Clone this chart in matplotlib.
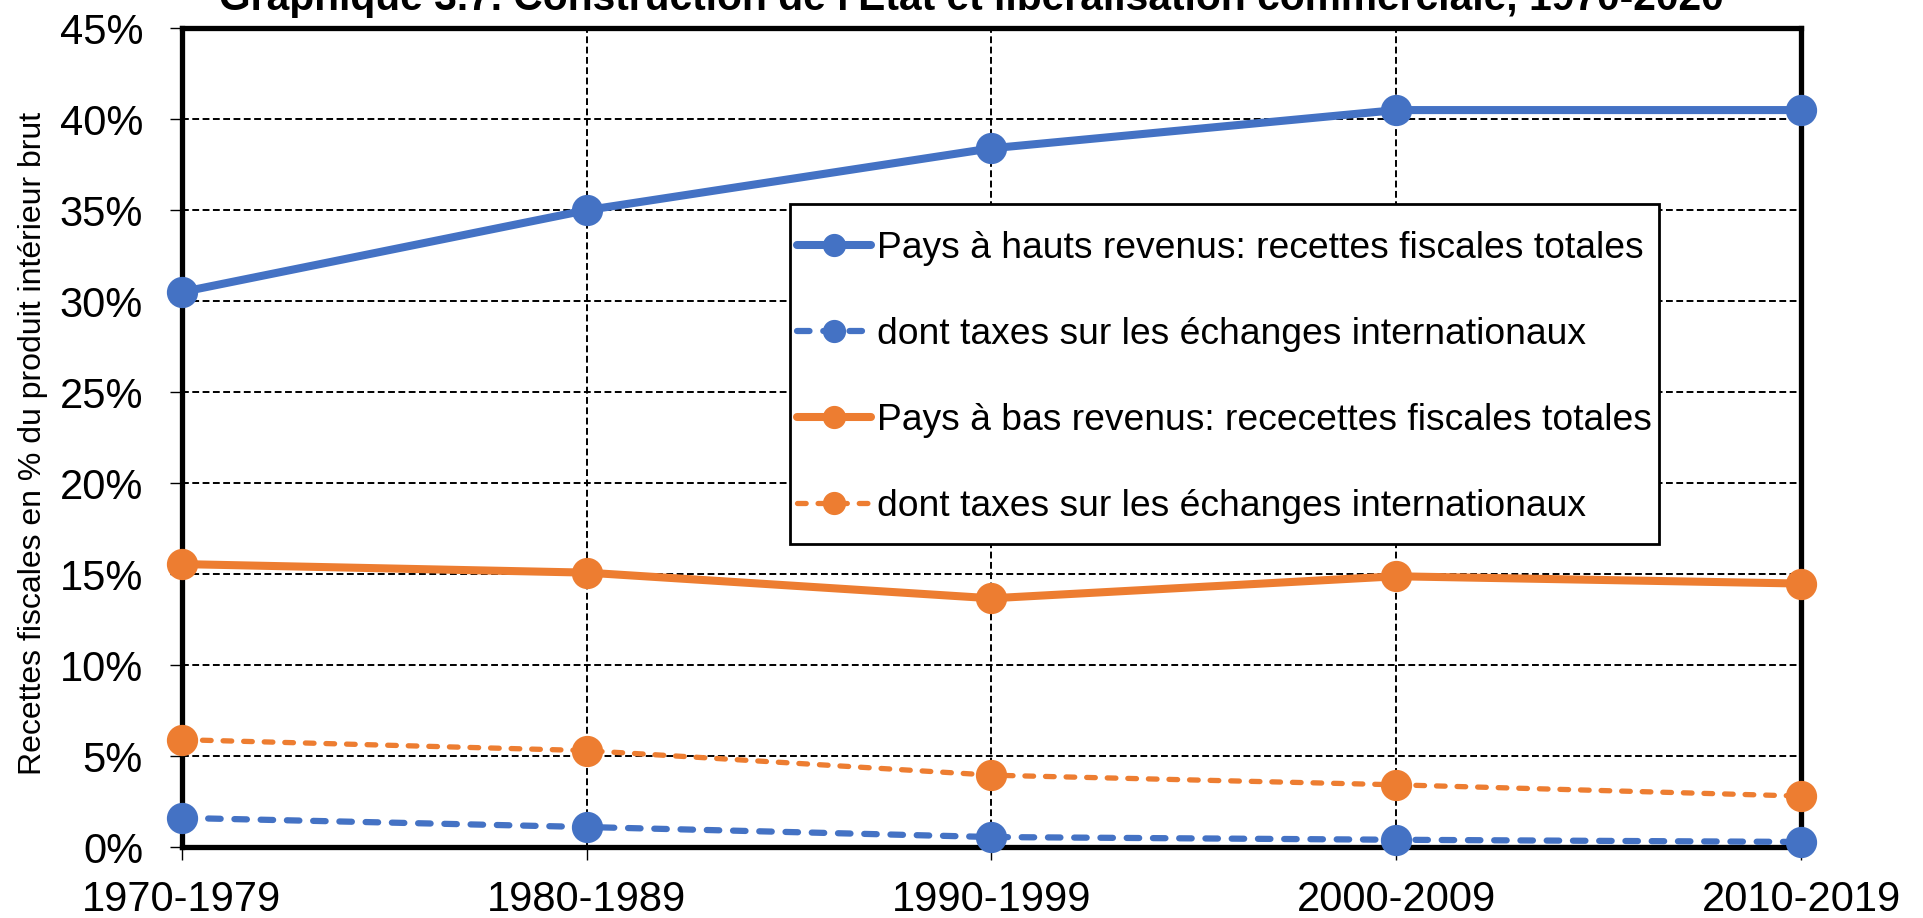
import matplotlib
matplotlib.use("Agg")
import matplotlib.pyplot as plt
from matplotlib.ticker import PercentFormatter
from matplotlib.patches import Rectangle

plt.rcParams['font.family'] = ['Liberation Sans', 'DejaVu Sans']

periods = ["1970-1979", "1980-1989", "1990-1999", "2000-2009", "2010-2019"]
high_total = [30.5, 35.0, 38.4, 40.5, 40.5]
high_trade = [1.6, 1.1, 0.55, 0.4, 0.28]
low_total = [15.55, 15.08, 13.67, 14.88, 14.48]
low_trade = [5.9, 5.3, 3.95, 3.42, 2.8]

labels = [
    "Pays à hauts revenus: recettes fiscales totales",
    "dont taxes sur les échanges internationaux",
    "Pays à bas revenus: rececettes fiscales totales",
    "dont taxes sur les échanges internationaux",
]
title = "Graphique 3.7. Construction de l'Etat et libéralisation commerciale, 1970-2020"
ylabel = "Recettes fiscales en % du produit intérieur brut"

BLUE = "#4472C4"
ORANGE = "#ED7D31"

W, H = 1923, 918
fig = plt.figure(figsize=(W / 100, H / 100), dpi=100)
ax = fig.add_axes([0.0946, 0.0773, 0.842, 0.892])

x = list(range(len(periods)))
ms = 21.5
l1, = ax.plot(x, high_total, color=BLUE, lw=5.8, marker='o', ms=ms, clip_on=False, zorder=5,
              solid_capstyle='round', label=labels[0])
l2, = ax.plot(x, high_trade, color=BLUE, lw=4.5, marker='o', ms=ms, clip_on=False, zorder=5,
              dashes=(2.0, 2.2), dash_capstyle='round', label=labels[1])
l3, = ax.plot(x, low_total, color=ORANGE, lw=5.8, marker='o', ms=ms, clip_on=False, zorder=5,
              solid_capstyle='round', label=labels[2])
l4, = ax.plot(x, low_trade, color=ORANGE, lw=3.8, marker='o', ms=ms, clip_on=False, zorder=5,
              dashes=(1.64, 2.26), dash_capstyle='round', label=labels[3])

ax.set_xlim(0, 4)
ax.set_ylim(0, 45)
ax.set_yticks(range(0, 46, 5))
ax.yaxis.set_major_formatter(PercentFormatter(decimals=0))
ax.set_xticks(x)
ax.set_xticklabels(periods)

ax.grid(True, color='black', linestyle=(0, (3.5, 1.8)), linewidth=1.4)
ax.set_axisbelow(True)
for s in ax.spines.values():
    s.set_linewidth(3.8)
    s.set_color('black')
    s.set_zorder(4)

ax.tick_params(axis='both', labelsize=30, length=9, width=1, direction='out', color='black')
ax.tick_params(axis='x', pad=15)
ax.tick_params(axis='y', pad=19)

fig.text(0.017, 0.517, ylabel, rotation=90, va='center', ha='center', fontsize=23)
fig.text(0.505, 1 - 9.5 / H, title, ha='center', va='baseline', fontsize=29.3,
         fontweight='bold')

# legend frame box
frame = Rectangle((790 / W, 1 - 544 / H), 869 / W, 340 / H, transform=fig.transFigure,
                  facecolor='white', edgecolor='black', linewidth=2, zorder=9, clip_on=False)
ax.add_patch(frame)

leg = ax.legend(handles=[l1, l2, l3, l4], loc='upper left',
                bbox_to_anchor=(797 / W, 1 - 231 / H), bbox_transform=fig.transFigure,
                borderaxespad=0, fontsize=26.8, handlelength=2.0, handletextpad=0.14,
                labelspacing=1.37, borderpad=0.0, markerscale=0.73, frameon=False)
leg.set_zorder(10)

fig.savefig("out.png", dpi=100)
